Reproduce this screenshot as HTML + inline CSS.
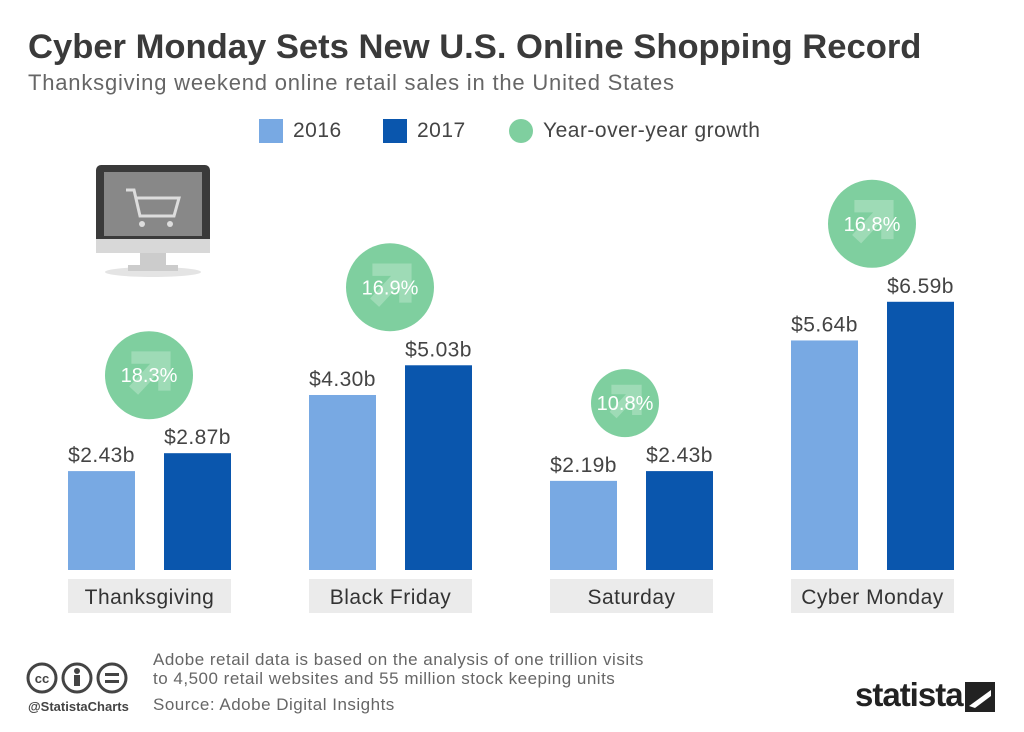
<!DOCTYPE html>
<html><head><meta charset="utf-8"><style>
body{margin:0;width:1024px;height:732px;background:#fff;font-family:"Liberation Sans",sans-serif;overflow:hidden;position:relative}
.t{position:absolute;white-space:nowrap}
</style></head><body>
<div class="t" style="left:28px;top:28px;font-size:34.6px;font-weight:bold;color:#3a3a3a">Cyber Monday Sets New U.S. Online Shopping Record</div>
<div class="t" style="left:28px;top:70px;font-size:22px;letter-spacing:0.8px;color:#666">Thanksgiving weekend online retail sales in the United States</div>
<div>
<div class="t" style="left:259px;top:119px;width:24px;height:24px;background:#78a9e3"></div>
<div class="t" style="left:293px;top:119px;font-size:21px;letter-spacing:0.5px;color:#444">2016</div>
<div class="t" style="left:383px;top:119px;width:24px;height:24px;background:#0a56ad"></div>
<div class="t" style="left:417px;top:119px;font-size:21px;letter-spacing:0.5px;color:#444">2017</div>
<div class="t" style="left:509px;top:119px;width:24px;height:24px;border-radius:50%;background:#7fcf9f"></div>
<div class="t" style="left:543px;top:119px;font-size:21px;letter-spacing:0.5px;color:#444">Year-over-year growth</div>
</div>
<svg style="position:absolute;left:90px;top:160px" width="130" height="125">
<rect x="6" y="5" width="114" height="84" rx="5" fill="#3a3a3a"/><rect x="14" y="12" width="98" height="64" fill="#888"/>
<rect x="6" y="79" width="114" height="14" fill="#d8d8d8"/><rect x="50" y="93" width="26" height="12" fill="#ccc"/>
<ellipse cx="63" cy="112" rx="48" ry="5" fill="#e4e4e4"/><rect x="38" y="105" width="50" height="6" fill="#ccc"/>
<path d="M36 30h8l6 26h34l5-18H46" stroke="#ddd" stroke-width="3" fill="none"/><circle cx="52" cy="64" r="3" fill="#ddd"/><circle cx="80" cy="64" r="3" fill="#ddd"/>
</svg>
<svg id="chart" style="position:absolute;left:0;top:0" width="1024" height="640"></svg>
<svg style="position:absolute;left:26px;top:660px" width="110" height="36">
<circle cx="16" cy="18" r="14" fill="none" stroke="#444" stroke-width="3"/><text x="16" y="23" font-size="13" font-weight="bold" text-anchor="middle" fill="#444" font-family="Liberation Sans">cc</text>
<circle cx="51" cy="18" r="14" fill="none" stroke="#444" stroke-width="3"/><circle cx="51" cy="11" r="3" fill="#444"/><rect x="48" y="15" width="6" height="11" fill="#444"/>
<circle cx="86" cy="18" r="14" fill="none" stroke="#444" stroke-width="3"/><rect x="79" y="13" width="14" height="3" fill="#444"/><rect x="79" y="20" width="14" height="3" fill="#444"/>
</svg>
<div class="t" style="left:28px;top:699px;font-size:13px;font-weight:bold;color:#444">@StatistaCharts</div>
<div class="t" style="left:153px;top:650px;font-size:17px;letter-spacing:0.5px;color:#666;line-height:19px">Adobe retail data is based on the analysis of one trillion visits<br>to 4,500 retail websites and 55 million stock keeping units</div>
<div class="t" style="left:153px;top:695px;font-size:17px;letter-spacing:0.5px;color:#666">Source: Adobe Digital Insights</div>
<div class="t" style="left:855px;top:676px;font-size:33px;font-weight:bold;color:#222;letter-spacing:-1px">statista</div>
<svg style="position:absolute;left:965px;top:682px" width="30" height="30"><rect width="30" height="30" fill="#222"/><path d="M4 24 L26 8 L26 14 L10 26Z" fill="#fff"/></svg>
<script>
const categories=["Thanksgiving","Black Friday","Saturday","Cyber Monday"];
const sales2016=[2.43,4.30,2.19,5.64];
const sales2017=[2.87,5.03,2.43,6.59];
const growth=[18.3,16.9,10.8,16.8];
const svg=document.getElementById('chart');
const NS="http://www.w3.org/2000/svg";
const base=570, pxPer=40.7;
const y=v=>base-v*pxPer;
const groupX=i=>68+i*241;
function el(t,a){const e=document.createElementNS(NS,t);for(const k in a)e.setAttribute(k,a[k]);svg.appendChild(e);return e;}
categories.forEach((c,i)=>{
 const gx=groupX(i);
 const lb=el('rect',{x:gx,y:579,width:163,height:34,fill:'#ebebeb'});
 
 
 const lt=el('text',{x:gx+81.5,y:604,'text-anchor':'middle','font-size':21,'letter-spacing':0.5,fill:'#333','font-family':'Liberation Sans'});lt.textContent=c;
 
 
 [[sales2016[i],'#78a9e3',gx],[sales2017[i],'#0a56ad',gx+96]].forEach(([v,col,x])=>{
  const b=el('rect',{x:x,y:y(v),width:67,height:base-y(v),fill:col});
  
  
  const t=el('text',{x:x+33.5,y:y(v)-9,'text-anchor':'middle','font-size':21,'letter-spacing':0.4,fill:'#444','font-family':'Liberation Sans'});t.textContent='$'+v.toFixed(2)+'b';
  
  
 });
 const top=y(Math.max(sales2016[i],sales2017[i]));
 const r=growth[i]<12?34:44;
 const cx=gx+81-(r<40?6:0), cy=top-34-r;
 const ci=el('circle',{cx:cx,cy:cy,r:r,fill:'#7fcf9f'});
 
 
 const ar=el('path',{d:`M${cx-r*0.4} ${cy-r*0.4}h${r*0.75}v${r*0.75}M${cx+r*0.3} ${cy-r*0.35}L${cx-r*0.35} ${cy+r*0.35}`,stroke:'#9edbb6','stroke-width':r*0.28,fill:'none'});
 
 
 const gt=el('text',{x:cx,y:cy+7,'text-anchor':'middle','font-size':20,fill:'#fff','font-family':'Liberation Sans'});gt.textContent=growth[i].toFixed(1)+'%';
 
 
});
</script>
</body></html>
